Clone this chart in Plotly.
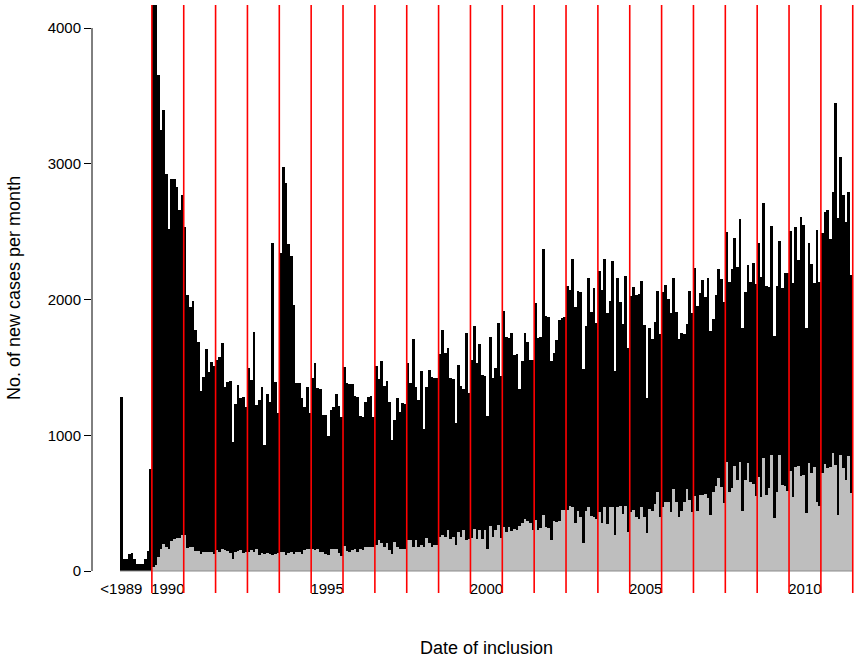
import plotly.graph_objects as go

# ---------------- data ----------------
pre1990_total = [1280, 85, 85, 125, 135, 85, 55, 50, 50, 85, 150, 750]

total_1990_2011 = [
    4400, 4300, 3654, 3249, 3396, 2925, 2520, 2888, 2888, 2831, 2659, 2770,  # 1990
    2536, 2033, 1947, 1991, 1775, 1689, 1328, 1431, 1633, 1468, 1540, 1510,  # 1991
    1554, 1580, 1682, 1358, 1394, 1400, 952, 1230, 1370, 1272, 1280, 1206,   # 1992
    1493, 1407, 1763, 1223, 1260, 1353, 928, 1302, 1247, 2419, 1394, 1162,   # 1993
    2340, 2974, 2856, 2409, 2320, 1960, 1383, 1383, 1272, 1211, 1358, 1162,  # 1994
    1419, 1530, 1350, 1343, 1149, 1150, 994, 1186, 1206, 1304, 1216, 1137,   # 1995
    1505, 1383, 1378, 1378, 1289, 1284, 1142, 1137, 1247, 1284, 1289, 1137,  # 1996
    1510, 1412, 1549, 1363, 1400, 1247, 963, 1112, 1272, 1175, 1236, 1230,   # 1997
    1535, 1383, 1707, 1353, 1260, 1476, 1044, 1358, 1480, 1426, 1419, 1419,  # 1998
    1599, 1775, 1609, 1640, 1419, 1412, 1093, 1517, 1363, 1343, 1751, 1309,  # 1999
    1554, 1805, 1530, 1673, 1443, 1436, 1142, 1726, 1419, 1493, 1825, 1436,  # 2000
    1917, 1721, 1714, 1756, 1591, 1600, 1343, 1549, 1751, 1689, 1554, 1554,  # 2001
    1977, 1714, 1726, 2375, 1878, 1873, 1549, 1609, 1700, 1849, 1861, 1868,  # 2002
    2099, 2070, 2296, 1947, 2060, 2057, 1486, 1805, 2156, 1910, 2084, 1825,  # 2003
    2212, 2070, 2296, 1898, 1991, 2286, 1476, 2156, 1984, 1820, 2173, 1640,  # 2004
    2026, 2094, 2033, 2040, 2139, 1812, 1272, 1788, 1707, 1837, 2060, 1746,  # 2005
    2053, 2107, 2004, 1898, 2156, 1905, 1707, 1751, 1746, 1820, 2065, 1900,  # 2006
    2233, 1952, 2050, 2144, 2020, 2156, 1770, 1854, 2030, 2228, 2149, 1980,  # 2007
    2500, 2131, 2223, 2450, 2240, 2590, 1787, 2057, 2254, 2131, 2272, 2112,  # 2008
    2413, 2164, 2712, 2100, 2094, 2541, 1731, 2100, 2433, 2082, 2198, 2193,  # 2009
    2507, 2121, 2532, 2291, 2610, 2550, 1793, 2416, 2260, 2121, 2510, 2131,  # 2010
    2488, 2647, 2660, 2444, 2790, 3450, 2604, 3050, 2770, 2570, 2790, 2180,  # 2011
]

subset_1990_2011 = [
    30, 45, 100, 165, 198, 180, 160, 220, 238, 245, 245, 262,      # 1990
    268, 166, 176, 174, 148, 150, 125, 140, 140, 138, 142, 126,    # 1991
    155, 143, 165, 155, 145, 130, 85, 138, 145, 155, 130, 143,     # 1992
    143, 155, 143, 160, 118, 135, 125, 130, 125, 118, 125, 130,    # 1993
    138, 138, 118, 130, 138, 128, 143, 138, 128, 155, 165, 160,    # 1994
    165, 155, 165, 143, 138, 128, 118, 160, 165, 160, 130, 110,    # 1995
    184, 150, 143, 155, 165, 143, 160, 155, 180, 180, 176, 180,    # 1996
    191, 226, 208, 176, 208, 155, 128, 216, 180, 165, 160, 165,    # 1997
    226, 230, 180, 226, 180, 191, 180, 245, 203, 176, 191, 191,    # 1998
    250, 262, 250, 299, 238, 250, 191, 287, 250, 299, 226, 238,    # 1999
    245, 311, 238, 304, 238, 299, 165, 335, 250, 299, 342, 245,    # 2000
    323, 290, 323, 295, 310, 300, 330, 355, 380, 370, 355, 305,    # 2001
    375, 302, 315, 410, 325, 320, 232, 368, 360, 370, 450, 450,    # 2002
    452, 482, 470, 355, 440, 400, 207, 445, 470, 405, 395, 380,    # 2003
    438, 352, 472, 345, 474, 474, 262, 474, 478, 420, 478, 290,    # 2004
    435, 452, 400, 385, 470, 400, 280, 460, 445, 495, 580, 395,    # 2005
    474, 511, 511, 437, 602, 511, 396, 444, 511, 602, 523, 437,    # 2006
    555, 445, 560, 560, 565, 535, 415, 584, 625, 682, 620, 500,    # 2007
    800, 584, 615, 773, 670, 805, 440, 670, 798, 655, 640, 555,    # 2008
    689, 548, 830, 560, 609, 856, 389, 584, 856, 633, 626, 592,    # 2009
    739, 548, 763, 773, 700, 707, 430, 798, 719, 768, 511, 480,    # 2010
    719, 792, 756, 768, 866, 780, 412, 856, 756, 670, 849, 572,    # 2011
]

first_year = 1990
last_year = 2011
label_years = [1990, 1995, 2000, 2005, 2010]
pre_label = "<1989"
y_ticks = [0, 1000, 2000, 3000, 4000]

# ---------------- build ----------------
n_pre = len(pre1990_total)
total = pre1990_total + total_1990_2011
subset = [None] * n_pre + subset_1990_2011
idx = list(range(len(total)))

x_min, x_max = -11.05, 277.1
y_max = 4170

FONT = "Liberation Sans, Arial, sans-serif"

fig = go.Figure()
fig.add_trace(go.Bar(x=idx, y=total, width=1.0, marker=dict(color="black", line=dict(width=0)),
                     showlegend=False, hoverinfo="skip"))
fig.add_trace(go.Bar(x=idx, y=subset, width=1.0, marker=dict(color="#bebebe", line=dict(width=0)),
                     showlegend=False, hoverinfo="skip"))

shapes = []
# baseline under the bars
shapes.append(dict(type="line", xref="x", yref="paper", x0=-0.5, x1=len(total) - 0.5, y0=0, y1=0,
                   line=dict(color="#8c8c8c", width=1), layer="above"))
# red year separators
for k in range(last_year - first_year + 2):
    xb = n_pre - 0.5 + 12 * k
    shapes.append(dict(type="line", xref="x", yref="paper", x0=xb, x1=xb, y0=-0.039, y1=1,
                       line=dict(color="#ff0000", width=1.6), layer="above"))
# y axis line from 0 to 4000
shapes.append(dict(type="line", xref="paper", yref="y", x0=0, x1=0, y0=y_ticks[0], y1=y_ticks[-1],
                   line=dict(color="black", width=1), layer="above"))

tickvals = [0] + [n_pre + 12 * (y - first_year) + 5.5 for y in label_years]
ticktext = [pre_label] + [str(y) for y in label_years]

fig.update_layout(
    width=857, height=659,
    margin=dict(l=92, r=0, t=5, b=88),
    paper_bgcolor="white", plot_bgcolor="white",
    barmode="overlay", bargap=0,
    font=dict(family=FONT, size=15, color="black"),
    shapes=shapes,
    xaxis=dict(range=[x_min, x_max], showgrid=False, zeroline=False, showline=False,
               tickmode="array", tickvals=tickvals, ticktext=ticktext,
               ticks="outside", ticklen=4, tickcolor="rgba(0,0,0,0)",
               tickfont=dict(size=15, family=FONT, color="black")),
    yaxis=dict(range=[0, y_max], showgrid=False, zeroline=False, showline=False,
               tickmode="array", tickvals=y_ticks, ticktext=[str(v) for v in y_ticks],
               ticks="outside", ticklen=7, tickwidth=1, tickcolor="black",
               tickfont=dict(size=15, family=FONT, color="black")),
    annotations=[
        dict(text="Date of inclusion", xref="paper", yref="paper", x=0.516, y=-0.136,
             xanchor="center", yanchor="middle", showarrow=False, font=dict(size=18, family=FONT)),
        dict(text="No. of new cases per month", xref="paper", yref="paper", x=-0.102, y=0.5,
             xanchor="center", yanchor="middle", textangle=-90, showarrow=False,
             font=dict(size=18, family=FONT)),
    ],
)

fig.write_html("out.html", config={"displayModeBar": False},
               post_script="document.body.style.margin='0';window.dispatchEvent(new Event('resize'));")
